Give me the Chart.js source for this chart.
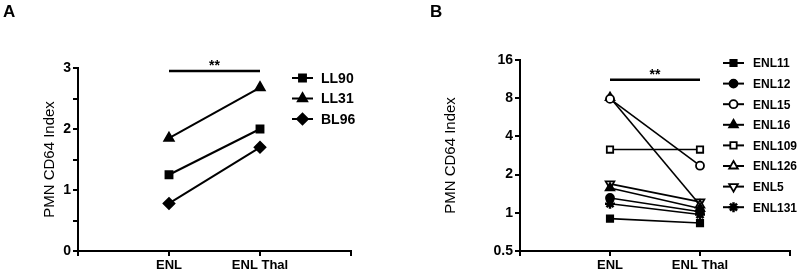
<!DOCTYPE html>
<html>
<head>
<meta charset="utf-8">
<script src="https://cdn.jsdelivr.net/npm/chart.js@4.4.1/dist/chart.umd.min.js"></script>
<style>
  html, body { margin: 0; padding: 0; background: #fff; }
  #wrap { position: relative; width: 798px; height: 274px; }
  .panel { position: absolute; top: 0; height: 274px; }
</style>
</head>
<body>
<div id="wrap">
  <div class="panel" style="left:0;width:400px"><canvas id="chartA"></canvas></div>
  <div class="panel" style="left:400px;width:398px"><canvas id="chartB"></canvas></div>
</div>
<script>
// shared categories
const categories = ["ENL", "ENL Thal"];

// panel A
const namesA = ["LL90", "LL31", "BL96"];
const enlA = [1.25, 1.85, 0.78];
const thalA = [2.0, 2.68, 1.70];
const yTicksA = [0, 0.5, 1, 1.5, 2, 2.5, 3];
const sigA = 2.95;

// panel B
const namesB = ["ENL11", "ENL12", "ENL15", "ENL16", "ENL109", "ENL126", "ENL5", "ENL131"];
const enlB = [0.90, 1.31, 7.9, 1.57, 3.15, 8.1, 1.69, 1.18];
const thalB = [0.83, 1.02, 2.35, 1.08, 3.15, 1.15, 1.22, 0.97];
const yTicksB = [0.5, 1, 2, 4, 8, 16];
const sigB = 11.2;

const FONT = "'Liberation Sans', Arial, sans-serif";

const markersA = [
  { style: "rect", fill: true, r: 5 },
  { style: "triangle", fill: true, r: 5.5 },
  { style: "rectRot", fill: true, r: 5.5 },
];
const markersB = [
  { style: "rect", fill: true, r: 4.5 },
  { style: "circle", fill: true, r: 4 },
  { style: "circle", fill: false, r: 4 },
  { style: "triangle", fill: true, r: 5 },
  { style: "rect", fill: false, r: 4.5 },
  { style: "triangle", fill: false, r: 5 },
  { style: "triangle", fill: false, r: 5, rot: 180 },
  { style: "star", fill: true, r: 5 },
];

function makeDatasets(names, a, b, markers, lw) {
  return names.map((name, i) => ({
    label: name,
    data: [{ x: 1, y: a[i] }, { x: 2, y: b[i] }],
    borderColor: "#000",
    borderWidth: lw,
    pointStyle: markers[i].style,
    pointRadius: markers[i].r,
    pointRotation: markers[i].rot || 0,
    pointBackgroundColor: markers[i].fill ? "#000" : "#fff",
    pointBorderColor: "#000",
    pointBorderWidth: markers[i].style === "star" ? 2.5 : 1.8,
  }));
}

// draws letter, significance bar and legend
const decorPlugin = {
  id: "decor",
  afterDraw(chart, args, opts) {
    const ctx = chart.ctx;
    const xs = chart.scales.x, ys = chart.scales.y;
    ctx.save();
    ctx.fillStyle = "#000";
    ctx.font = "bold 17px " + FONT;
    ctx.textBaseline = "alphabetic";
    ctx.textAlign = "left";
    ctx.fillText(opts.letter, opts.letterX, 17);

    // significance bar
    const y = ys.getPixelForValue(opts.sig);
    ctx.strokeStyle = "#000";
    ctx.lineWidth = 2.5;
    ctx.beginPath();
    ctx.moveTo(xs.getPixelForValue(1), y);
    ctx.lineTo(xs.getPixelForValue(2), y);
    ctx.stroke();
    ctx.font = "bold 14px " + FONT;
    ctx.textAlign = "center";
    ctx.fillText("**", (xs.getPixelForValue(1) + xs.getPixelForValue(2)) / 2, y - 1);

    // legend
    ctx.textAlign = "left";
    ctx.textBaseline = "middle";
    ctx.font = opts.legendFont;
    chart.data.datasets.forEach((ds, i) => {
      const ly = opts.legendY + i * opts.legendStep;
      ctx.strokeStyle = "#000";
      ctx.lineWidth = 2;
      ctx.beginPath();
      ctx.moveTo(opts.legendX, ly);
      ctx.lineTo(opts.legendX + 21, ly);
      ctx.stroke();
      ctx.fillStyle = ds.pointBackgroundColor;
      ctx.strokeStyle = "#000";
      ctx.lineWidth = ds.pointBorderWidth;
      Chart.helpers.drawPoint(ctx, {
        pointStyle: ds.pointStyle,
        rotation: ds.pointRotation,
        radius: ds.pointRadius,
        borderWidth: ds.pointBorderWidth,
      }, opts.legendX + 10.5, ly);
      ctx.fillStyle = "#000";
      ctx.fillText(ds.label, opts.legendX + opts.textGap, ly + 1);
    });
    ctx.restore();
  },
};

function buildChart(id, cfg) {
  const ctx = document.getElementById(id).getContext("2d");
  return new Chart(ctx, {
    type: "line",
    data: { datasets: cfg.datasets },
    plugins: [decorPlugin],
    options: {
      responsive: true,
      maintainAspectRatio: false,
      animation: false,
      events: [],
      layout: { padding: { top: cfg.top, right: cfg.right, bottom: 0, left: 0 } },
      plugins: {
        legend: { display: false },
        tooltip: { enabled: false },
        decor: cfg.decor,
      },
      scales: {
        x: {
          type: "linear",
          min: 0,
          max: 3,
          afterBuildTicks: (s) => { s.ticks = [0, 1, 2, 3].map((v) => ({ value: v })); },
          afterFit: (s) => { s.height = 23; },
          ticks: {
            autoSkip: false,
            maxRotation: 0,
            padding: 2,
            color: "#000",
            font: { family: FONT, size: 13, weight: "bold" },
            callback: (v) => categories[v - 1] || "",
          },
          grid: { display: true, drawOnChartArea: false, tickLength: 5, color: "#000", lineWidth: 2 },
          border: { display: true, color: "#000", width: 2 },
        },
        y: {
          type: cfg.yType,
          min: cfg.yMin,
          max: cfg.yMax,
          afterBuildTicks: (s) => { s.ticks = cfg.yTicks.map((v) => ({ value: v })); },
          afterFit: (s) => { s.width = cfg.yWidth; },
          ticks: {
            autoSkip: false,
            padding: 2,
            color: "#000",
            font: { family: FONT, size: 14, weight: "bold" },
            callback: cfg.yLabel,
          },
          grid: { display: true, drawOnChartArea: false, tickLength: 5, color: "#000", lineWidth: 2 },
          border: { display: true, color: "#000", width: 2 },
          title: {
            display: true,
            text: "PMN CD64 Index",
            color: "#000",
            font: { family: FONT, size: 15 },
            padding: { top: cfg.titlePad, bottom: 0 },
          },
        },
      },
    },
  });
}

buildChart("chartA", {
  datasets: makeDatasets(namesA, enlA, thalA, markersA, 2),
  top: 68, right: 49, yWidth: 78,
  yType: "linear", yMin: 0, yMax: 3, yTicks: yTicksA,
  yLabel: (v) => (Number.isInteger(v) ? String(v) : ""),
  titlePad: 41,
  decor: {
    letter: "A", letterX: 3, sig: sigA,
    legendX: 292, legendY: 78, legendStep: 20.5, textGap: 29,
    legendFont: "bold 14px " + FONT,
  },
});

buildChart("chartB", {
  datasets: makeDatasets(namesB, enlB, thalB, markersB, 1.6),
  top: 60, right: 8, yWidth: 120,
  yType: "logarithmic", yMin: 0.5, yMax: 16, yTicks: yTicksB,
  yLabel: (v) => String(v),
  titlePad: 42,
  decor: {
    letter: "B", letterX: 30, sig: sigB,
    legendX: 323, legendY: 63, legendStep: 20.6, textGap: 30,
    legendFont: "bold 12px " + FONT,
  },
});
</script>
</body>
</html>
